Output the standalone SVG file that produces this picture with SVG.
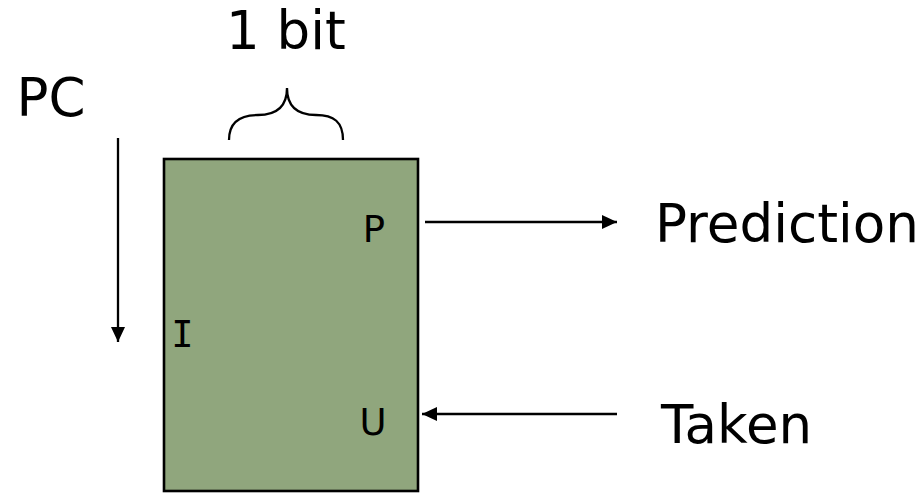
<svg xmlns="http://www.w3.org/2000/svg" width="923" height="493" viewBox="0 0 923 493">
<defs>
<style>
.big{font-family:"DejaVu Sans","Verdana",sans-serif;font-size:53px;fill:#000}
.lbl{font-family:"DejaVu Sans","Verdana",sans-serif;font-size:37px;fill:#000;text-anchor:middle}
.mono{font-family:"DejaVu Sans Mono",monospace;font-size:37px;fill:#000;text-anchor:middle}
.conn{stroke:#000;stroke-width:2.3;fill:none}
</style>
<marker id="ah" viewBox="0 0 15 14" refX="15" refY="7" markerUnits="userSpaceOnUse" markerWidth="15" markerHeight="14" orient="auto">
<path d="M0,0 L15,7 L0,14 Z" fill="#000"/>
</marker>
</defs>
<rect width="923" height="493" fill="#fff"/>
<g id="table">
<rect x="164" y="159" width="254" height="332" fill="#90A67D" stroke="#000" stroke-width="2.6"/>
<text class="lbl" x="374" y="242">P</text>
<text class="mono" x="182.5" y="346.5">I</text>
<text class="lbl" x="373" y="435">U</text>
</g>
<g id="width-label">
<path class="conn" stroke-width="2" d="M229,140 C229,122 240,115 258,115 C275,115 287,108 287,88 C287,108 299,115 316,115 C334,115 343,122 343,140"/>
<text class="big" x="226" y="49">1 bit</text>
</g>
<g id="pc">
<text class="big" x="16.5" y="116">PC</text>
</g>
<g id="prediction">
<text class="big" x="655" y="242" textLength="264" lengthAdjust="spacingAndGlyphs">Prediction</text>
</g>
<g id="taken">
<text class="big" x="661" y="443">Taken</text>
</g>
<g id="connectors">
<line class="conn" x1="118" y1="138" x2="118" y2="342" marker-end="url(#ah)"/>
<line class="conn" x1="425" y1="222" x2="617" y2="222" marker-end="url(#ah)"/>
<line class="conn" x1="617" y1="414" x2="422" y2="414" marker-end="url(#ah)"/>
</g>
</svg>
